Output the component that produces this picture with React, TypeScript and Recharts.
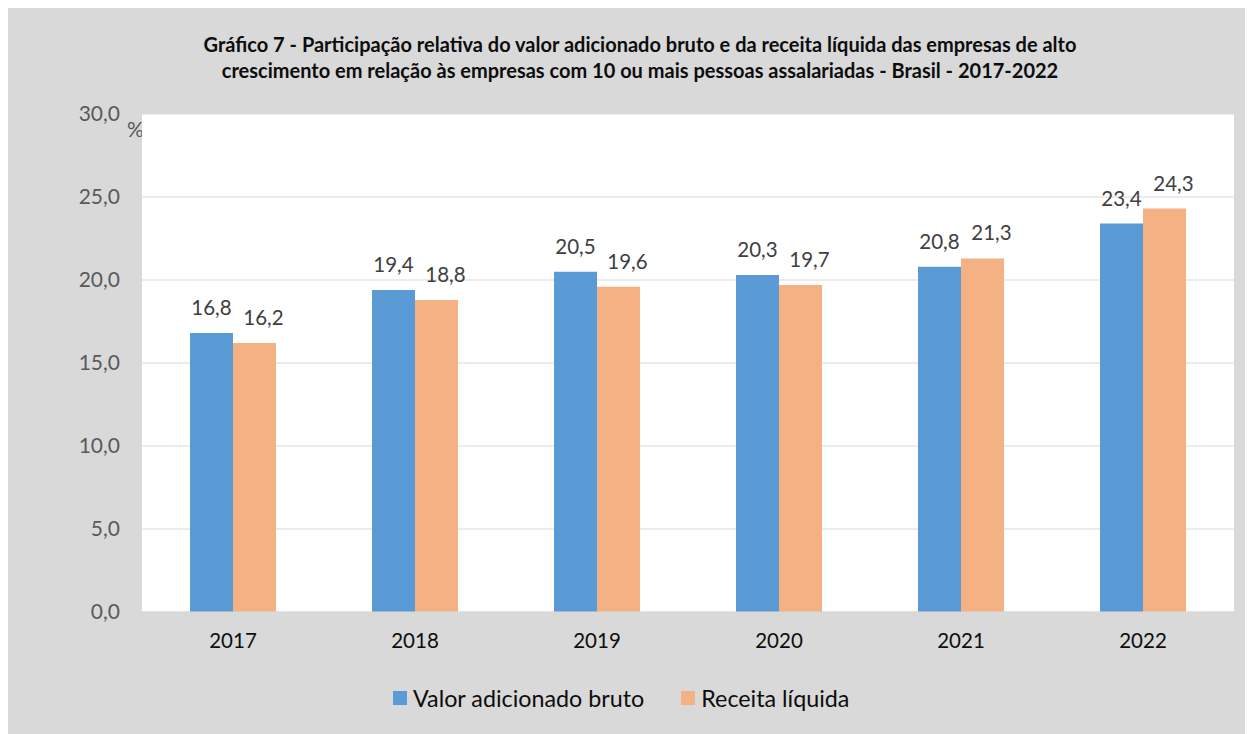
import { BarChart, Bar, XAxis, YAxis, CartesianGrid, Legend, LabelList } from 'recharts'

const anos = ['2017', '2018', '2019', '2020', '2021', '2022']
const valorAdicionado = [16.8, 19.4, 20.5, 20.3, 20.8, 23.4]
const receitaLiquida = [16.2, 18.8, 19.6, 19.7, 21.3, 24.3]
const yTicks = [0, 5, 10, 15, 20, 25, 30]

const data = anos.map((ano, i) => ({
  ano,
  vab: valorAdicionado[i],
  receita: receitaLiquida[i],
}))

const FONT = 'Lato, "Open Sans", sans-serif'
const AZUL = '#5B9BD5'
const LARANJA = '#F4B183'

function fmt(v: number) {
  return v.toFixed(1).replace('.', ',')
}

function LegendaCustom() {
  const itens = [
    { cor: AZUL, nome: 'Valor adicionado bruto' },
    { cor: LARANJA, nome: 'Receita líquida' },
  ]
  return (
    <div style={{ display: 'flex', alignItems: 'center', height: 72, gap: 37, paddingLeft: 385 }}>
      {itens.map(it => (
        <div key={it.nome} style={{ display: 'flex', alignItems: 'center', fontSize: 23.3, color: '#0d0d0d', fontFamily: FONT }}>
          <span style={{ width: 14, height: 14, background: it.cor, marginRight: 6, display: 'inline-block' }} />
          {it.nome}
        </div>
      ))}
    </div>
  )
}

export default function App() {
  return (
    <div style={{ position: 'relative', width: 1245, height: 727, background: '#d9d9d9', marginTop: -1, fontFamily: FONT }}>
      <div style={{
        position: 'absolute', top: 24, left: 0, width: 1245, paddingLeft: 19, boxSizing: 'border-box',
        textAlign: 'center', fontWeight: 700, fontSize: 20, lineHeight: '26px', color: '#0d0d0d',
      }}>
        Gráfico 7 - Participação relativa do valor adicionado bruto e da receita líquida das empresas de alto<br />
        crescimento em relação às empresas com 10 ou mais pessoas assalariadas - Brasil - 2017-2022
      </div>
      <div style={{ position: 'absolute', left: 119, top: 109, fontSize: 21, color: '#595959' }}>%</div>
      <BarChart
        width={1245}
        height={727}
        data={data}
        margin={{ top: 107, right: 19, left: 0, bottom: 0 }}
        barGap={0}
        style={{ position: 'absolute', top: 0, left: 0 }}
      >
        <CartesianGrid vertical={false} stroke="#d9d9d9" fill="#ffffff" />
        <XAxis
          dataKey="ano"
          height={50}
          axisLine={{ stroke: '#d9d9d9' }}
          tickLine={false}
          tickMargin={15}
          tick={{ fontSize: 20.5, fill: '#0d0d0d', fontFamily: FONT }}
        />
        <YAxis
          width={134}
          domain={[0, 30]}
          ticks={yTicks}
          axisLine={false}
          tickLine={false}
          tickMargin={16}
          tickFormatter={fmt}
          tick={{ fontSize: 21, fill: '#595959', fontFamily: FONT }}
        />
        <Legend verticalAlign="bottom" content={() => <LegendaCustom />} wrapperStyle={{ height: 72 }} />
        <Bar dataKey="vab" name="Valor adicionado bruto" fill={AZUL} barSize={43} isAnimationActive={false}>
          <LabelList dataKey="vab" position="top" offset={18} formatter={(v: number) => fmt(v)}
            style={{ fontSize: 20.5, fill: '#404040', fontFamily: FONT }} />
        </Bar>
        <Bar dataKey="receita" name="Receita líquida" fill={LARANJA} barSize={43} isAnimationActive={false}>
          <LabelList dataKey="receita" position="top" offset={18} dx={9} formatter={(v: number) => fmt(v)}
            style={{ fontSize: 20.5, fill: '#404040', fontFamily: FONT }} />
        </Bar>
      </BarChart>
    </div>
  )
}
